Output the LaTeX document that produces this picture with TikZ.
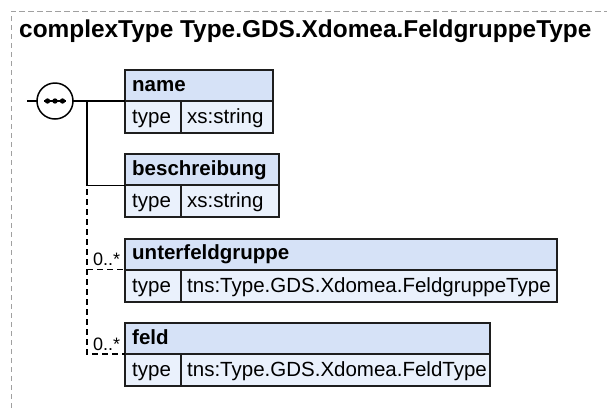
\documentclass[tikz,border=0pt]{standalone}
\usepackage{fontspec}
\setmainfont{Liberation Sans}
\usetikzlibrary{calc}
\definecolor{hdrfill}{RGB}{214,226,247}
\definecolor{rowfill}{RGB}{234,241,252}
\definecolor{bordergray}{RGB}{160,160,160}
\definecolor{boxline}{RGB}{30,30,30}
\tikzset{
  hdr/.style={draw=boxline, fill=hdrfill, line width=1.8pt, rectangle, inner sep=0pt, outer sep=0pt, minimum height=31pt},
  rowcell/.style={draw=boxline, fill=rowfill, line width=1.8pt, rectangle, inner sep=0pt, outer sep=0pt, minimum height=32pt},
  hdrtxt/.style={anchor=base west, inner sep=0pt, font=\fontsize{20.5}{24}\selectfont\bfseries},
  rowtxt/.style={anchor=base west, inner sep=0pt, font=\fontsize{20.5}{24}\selectfont},
  conn/.style={line width=1.5pt, black},
  optconn/.style={conn, dash pattern=on 6pt off 4pt},
  occ/.style={anchor=base west, inner sep=0pt, font=\fontsize{18}{20}\selectfont},
  seqc/.style={circle, draw=black, fill=white, line width=1.5pt, minimum size=36pt, inner sep=0pt, outer sep=0pt},
  titletxt/.style={anchor=base west, inner sep=0pt, font=\fontsize{24.4}{28}\selectfont\bfseries},
  frame/.style={bordergray, line width=1pt, dash pattern=on 5.5pt off 3.5pt}
}
\newcommand{\elbox}[6]{%
  \node[hdr, minimum width=#4pt, anchor=north west] (#1) at (#2,#3) {};
  \node[rowcell, minimum width=56pt, anchor=north west] (#1t) at (#1.south west) {};
  \node[rowcell, minimum width=#4pt-56pt, anchor=north west] (#1v) at (#1t.north east) {};
  \node[hdrtxt] (#1l) at ([shift={(7pt,10pt)}]#1.south west) {#5};
  \node[rowtxt] (#1tl) at ([shift={(7pt,9.5pt)}]#1t.south west) {type};
  \node[rowtxt] (#1vl) at ([shift={(6pt,9.5pt)}]#1v.south west) {#6};
}
\begin{document}
\begin{tikzpicture}[x=1pt,y=-1pt]
\useasboundingbox (0,0) rectangle (607,408);
\draw[frame] (11,408) -- (11,11) -- (607,11);
\node[titletxt] (title) at (19,37.5) {complexType Type.GDS.Xdomea.FeldgruppeType};

\elbox{nm}{125}{70}{148}{name}{xs:string}
\elbox{be}{125}{154.3}{154}{beschreibung}{xs:string}
\elbox{uf}{125}{238.6}{432}{unterfeldgruppe}{tns:Type.GDS.Xdomea.FeldgruppeType}
\elbox{fe}{125}{323}{365}{feld}{tns:Type.GDS.Xdomea.FeldType}

\coordinate (start) at (27,101);
\coordinate (j1) at (87,101);
\draw[conn] (start) -- (j1 -| nm.south west) -- (nm.south west);
\draw[conn] (j1) -- (j1 |- be.south west) -- (be.south west);
\draw[optconn, dash phase=6pt] (j1 |- be.south west) -- (j1 |- fe.south west) -- (fe.south west);
\draw[optconn] (j1 |- uf.south west) -- (uf.south west);
\node[occ] (o1) at ($(uf.south west)+(-32pt,4pt)$) {0..*};
\node[occ] (o2) at ($(fe.south west)+(-32pt,4pt)$) {0..*};

\node[seqc] (seq) at (55,101) {};
\draw[line width=1.5pt] ([xshift=-11pt]seq.center) -- ([xshift=11pt]seq.center);
\fill ([xshift=-7.5pt]seq.center) circle (2.7pt);
\fill (seq.center) circle (2.7pt);
\fill ([xshift=7.5pt]seq.center) circle (2.7pt);
\end{tikzpicture}
\end{document}
